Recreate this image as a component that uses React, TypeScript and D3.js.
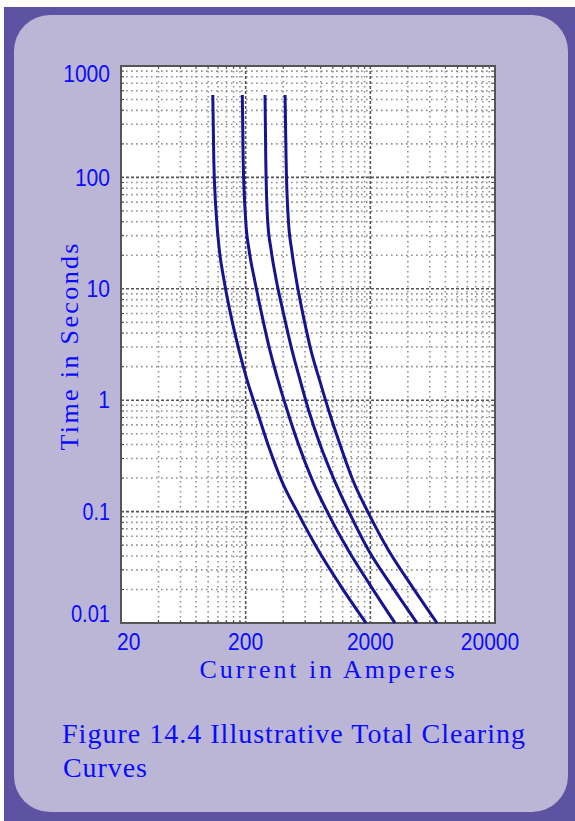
import React from "react";
import * as d3 from "d3";

// total clearing curves: current (A) at each time (s)
const times = [550, 143, 41.5, 22.3, 12, 5.8, 2.8, 1.52, 0.82, 0.4, 0.19, 0.093, 0.045, 0.022, 0.01];
const curveA = [109, 111, 117, 123, 134, 152, 177, 205, 245, 302, 388, 536, 765, 1142, 1846];
const curveB = [188, 191, 200, 213, 236, 270, 313, 363, 429, 531, 687, 932, 1331, 1988, 3153];
const curveC = [286, 290, 300, 320, 352, 405, 471, 546, 638, 790, 1032, 1387, 1934, 2928, 4736];
const curveD = [414, 422, 440, 468, 510, 578, 668, 782, 923, 1142, 1452, 1969, 2796, 4238, 6850];
const curves = [curveA, curveB, curveC, curveD];

const xTicks = [20, 200, 2000, 20000];
const yTicks = [0.01, 0.1, 1, 10, 100, 1000];
const xTickLabels = ["20", "200", "2000", "20000"];
const yTickLabels = ["0.01", "0.1", "1", "10", "100", "1000"];
const gridSteps = [2, 3, 4, 5, 6, 7, 8, 9];

const W = 575;
const H = 821;
const plot = { left: 121, right: 495, top: 66, bottom: 623 };
const blue = "#0a0aff";
const serif = "'Liberation Serif', 'DejaVu Serif', serif";
const sans = "'Liberation Sans', Arial, sans-serif";

// width of a numeric label in the narrow bitmap font
const labelWidth = (s: string) =>
  s.split("").reduce((w, c) => w + (c === "." ? 4 : 11.7), 0);

export default function App() {
  const x = d3.scaleLog().domain([20, 20000]).range([plot.left, plot.right]);
  const y = d3.scaleLog().domain([0.01, 1000]).range([plot.bottom, plot.top]);

  // minor grid: k * decade start, decades start at each tick
  const xMinor = xTicks.slice(0, -1).flatMap((b) => gridSteps.map((k) => k * b));
  const yMinor = yTicks.slice(0, -1).flatMap((b) => gridSteps.map((k) => k * b));
  const xMajor = xTicks.slice(1, -1);
  const yMajor = yTicks.slice(1, -1);

  const line = d3
    .line<[number, number]>()
    .x((d) => x(d[0]))
    .y((d) => y(d[1]))
    .curve(d3.curveMonotoneX);

  const minorStyle = { stroke: "#8e8e8e", strokeWidth: 1.6, strokeDasharray: "1.6 3.4" };
  const majorStyle = { stroke: "#555555", strokeWidth: 1.6, strokeDasharray: "3 2" };

  return (
    <div style={{ position: "absolute", left: 0, top: 0 }}>
      <svg width={W} height={H} style={{ display: "block" }}>
        <rect x={0} y={0} width={W} height={H} fill="#ffffff" />
        <rect x={4} y={7} width={W - 4} height={H - 7} fill="#5e52a2" />
        <rect x={14} y={15} width={554} height={797} rx={36} ry={36} fill="#bbb6d6" />

        <rect
          x={plot.left}
          y={plot.top}
          width={plot.right - plot.left}
          height={plot.bottom - plot.top}
          fill="#ffffff"
        />

        <g>
          {xMinor.map((v) => (
            <line key={"xm" + v} x1={x(v)} x2={x(v)} y1={plot.top} y2={plot.bottom} {...minorStyle} />
          ))}
          {yMinor.map((v) => (
            <line key={"ym" + v} y1={y(v)} y2={y(v)} x1={plot.left} x2={plot.right} {...minorStyle} />
          ))}
          {xMajor.map((v) => (
            <line key={"xM" + v} x1={x(v)} x2={x(v)} y1={plot.top} y2={plot.bottom} {...majorStyle} />
          ))}
          {yMajor.map((v) => (
            <line key={"yM" + v} y1={y(v)} y2={y(v)} x1={plot.left} x2={plot.right} {...majorStyle} />
          ))}
        </g>

        <g stroke="#444">
          {yMinor.map((v) => (
            <g key={"yt" + v}>
              <line x1={plot.left} x2={plot.left + 3} y1={y(v)} y2={y(v)} />
              <line x1={plot.right} x2={plot.right - 3} y1={y(v)} y2={y(v)} />
            </g>
          ))}
          {xMinor.map((v) => (
            <g key={"xt" + v}>
              <line y1={plot.bottom} y2={plot.bottom - 3} x1={x(v)} x2={x(v)} />
              <line y1={plot.top} y2={plot.top + 3} x1={x(v)} x2={x(v)} />
            </g>
          ))}
        </g>

        <rect
          x={plot.left}
          y={plot.top}
          width={plot.right - plot.left}
          height={plot.bottom - plot.top}
          fill="none"
          stroke="#555"
          strokeWidth={2}
        />

        <g fill="none" stroke="#16148e" strokeWidth={3}>
          {curves.map((c, i) => (
            <path key={i} d={line(c.map((I, j) => [I, times[j]] as [number, number])) || ""} />
          ))}
        </g>

        <g fill={blue} fontFamily={sans} fontSize={23}>
          {yTicks.map((v, i) => {
            const s = yTickLabels[i];
            let cy = y(v);
            if (i === 0) cy -= 9;
            if (i === yTicks.length - 1) cy += 8;
            return (
              <text
                key={"yl" + v}
                x={110}
                y={cy}
                dy="0.36em"
                textAnchor="end"
                textLength={labelWidth(s)}
                lengthAdjust="spacingAndGlyphs"
              >
                {s}
              </text>
            );
          })}
          {xTicks.map((v, i) => {
            const s = xTickLabels[i];
            const w = labelWidth(s);
            let cx = x(v);
            if (i === 0) cx = plot.left - 4 + w / 2;
            if (i === xTicks.length - 1) cx -= 5;
            return (
              <text
                key={"xl" + v}
                x={cx}
                y={650}
                textAnchor="middle"
                textLength={w}
                lengthAdjust="spacingAndGlyphs"
              >
                {s}
              </text>
            );
          })}
        </g>

        <g fill={blue} fontFamily={serif}>
          <text x={327} y={678} fontSize={26} textAnchor="middle" textLength={255} lengthAdjust="spacing">
            Current in Amperes
          </text>
          <text
            transform="translate(78,347) rotate(-90)"
            fontSize={26}
            textAnchor="middle"
            textLength={207}
            lengthAdjust="spacing"
          >
            Time in Seconds
          </text>
          <text x={62} y={743} fontSize={28} textLength={463} lengthAdjust="spacing">
            Figure 14.4 Illustrative Total Clearing
          </text>
          <text x={63} y={777} fontSize={28} textLength={84} lengthAdjust="spacing">
            Curves
          </text>
        </g>
      </svg>
    </div>
  );
}
